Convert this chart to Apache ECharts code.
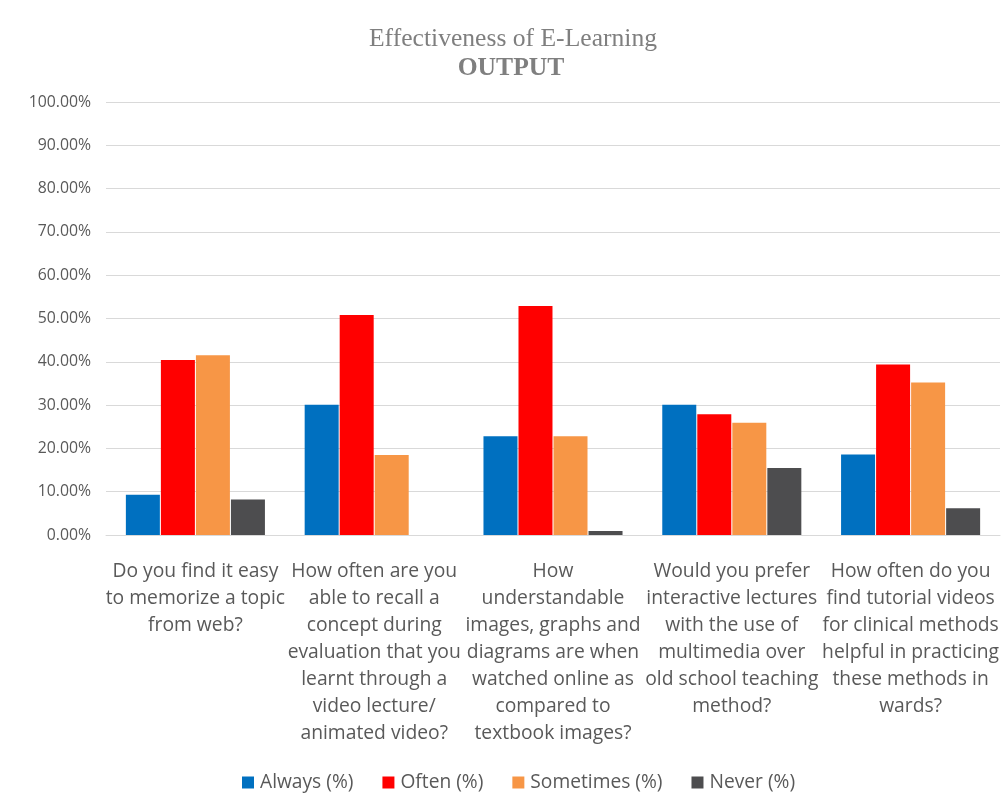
<!DOCTYPE html>
<html>
<head>
<meta charset="utf-8">
<script src="https://cdn.jsdelivr.net/npm/echarts@6/dist/echarts.min.js"></script>
<style>
html,body{margin:0;padding:0;background:#fff;}
#chart{width:1008px;height:802px;}
</style>
</head>
<body>
<div id="chart"></div>
<script>
// Survey questions (x-axis categories)
const categories = [
  "Do you find it easy\nto memorize a topic\nfrom web?",
  "How often are you\nable to recall a\nconcept during\nevaluation that you\nlearnt through a\nvideo lecture/\nanimated video?",
  "How\nunderstandable\nimages, graphs and\ndiagrams are when\nwatched online as\ncompared to\ntextbook images?",
  "Would you prefer\ninteractive lectures\nwith the use of\nmultimedia over\nold school teaching\nmethod?",
  "How often do you\nfind tutorial videos\nfor clinical methods\nhelpful in practicing\nthese methods in\nwards?"
];

// Response shares (%)
const always    = [9.3, 30.1, 22.8, 30.1, 18.6];
const often     = [40.4, 50.8, 52.9, 27.9, 39.4];
const sometimes = [41.5, 18.5, 22.8, 25.9, 35.2];
const never     = [8.2, 0, 0.9, 15.5, 6.2];

const seriesNames = ["Always (%)", "Often (%)", "Sometimes (%)", "Never (%)"];
const seriesColors = ["#0070C0", "#FF0000", "#F79646", "#4D4D4F"];
const seriesData = [always, often, sometimes, never];

const chart = echarts.init(document.getElementById('chart'));
const font = "'Open Sans', Lato, sans-serif";
const serif = "'Liberation Serif', 'DejaVu Serif', serif";

chart.setOption({
  backgroundColor: '#ffffff',
  animation: false,
  graphic: [
    {
      type: 'text', x: 513, y: 26,
      style: {text: 'Effectiveness of E-Learning', textAlign: 'center', font: 'normal 25.6px ' + serif, fill: '#7f7f7f'}
    },
    {
      type: 'text', x: 511, y: 55,
      style: {text: 'OUTPUT', textAlign: 'center', font: 'bold 25.6px ' + serif, fill: '#7f7f7f'}
    }
  ],
  legend: {
    bottom: 5,
    left: 237,
    itemWidth: 12,
    itemHeight: 12,
    itemGap: 29,
    icon: 'rect',
    textStyle: {fontFamily: font, fontSize: 19.2, color: '#595959', padding: [0, 0, 0, 1]},
    data: seriesNames
  },
  grid: {left: 106, right: 8, top: 102, bottom: 267, containLabel: false},
  xAxis: {
    type: 'category',
    data: categories,
    axisLine: {lineStyle: {color: '#d9d9d9', width: 1}},
    axisTick: {show: false},
    axisLabel: {
      interval: 0,
      margin: 23,
      fontFamily: font,
      fontSize: 19.3,
      lineHeight: 27,
      color: '#595959',
      align: 'center'
    }
  },
  yAxis: {
    type: 'value',
    min: 0,
    max: 100,
    interval: 10,
    axisLine: {show: false},
    axisTick: {show: false},
    splitLine: {lineStyle: {color: '#d9d9d9', width: 1}},
    axisLabel: {
      margin: 15,
      fontFamily: font,
      fontSize: 15.8,
      color: '#595959',
      formatter: v => v.toFixed(2) + '%'
    }
  },
  series: seriesNames.map((name, i) => ({
    name: name,
    type: 'bar',
    data: seriesData[i],
    barWidth: 34,
    barGap: '3%',
    itemStyle: {color: seriesColors[i]}
  }))
});
</script>
</body>
</html>
